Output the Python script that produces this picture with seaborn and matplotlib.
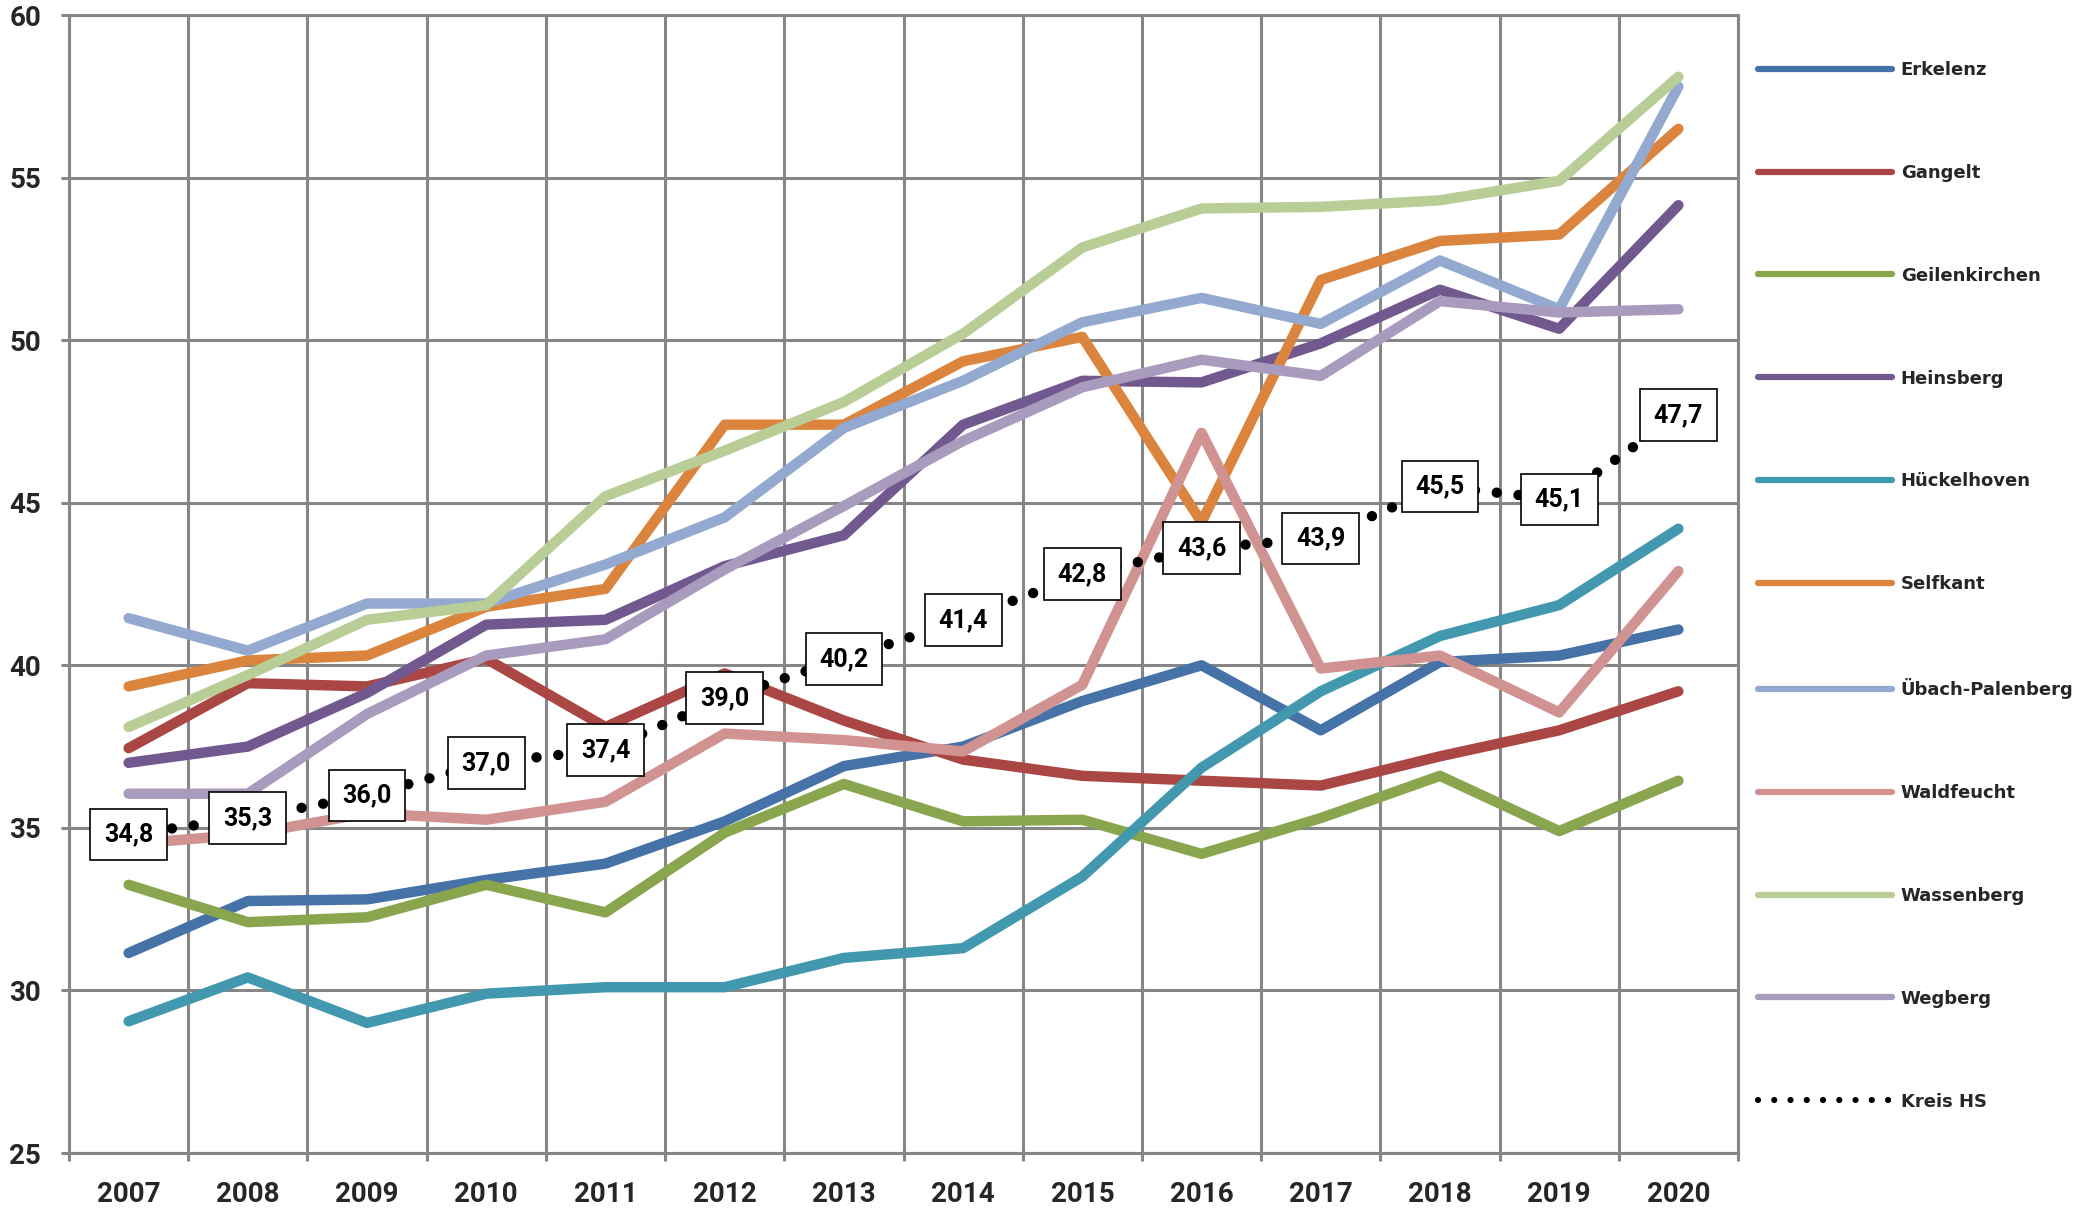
import pandas as pd
import matplotlib.pyplot as plt
import seaborn as sns
from matplotlib.lines import Line2D

# Data
years = ['2007', '2008', '2009', '2010', '2011', '2012', '2013',
         '2014', '2015', '2016', '2017', '2018', '2019', '2020']

erkelenz = [31.15, 32.75, 32.8, 33.4, 33.9, 35.2, 36.9, 37.5, 38.9, 40.0, 38.0, 40.1, 40.3, 41.1]
gangelt = [37.45, 39.45, 39.35, 40.2, 38.1, 39.75, 38.3, 37.1, 36.6, 36.45, 36.3, 37.2, 38.0, 39.2]
geilenkirchen = [33.25, 32.1, 32.25, 33.25, 32.4, 34.85, 36.35, 35.2, 35.25, 34.2, 35.3, 36.6, 34.9, 36.45]
heinsberg = [37.0, 37.5, 39.15, 41.25, 41.4, 43.05, 44.0, 47.4, 48.75, 48.7, 49.9, 51.55, 50.35, 54.15]
hueckelhoven = [29.05, 30.4, 29.0, 29.9, 30.1, 30.1, 31.0, 31.3, 33.5, 36.85, 39.2, 40.9, 41.85, 44.2]
selfkant = [39.35, 40.15, 40.3, 41.8, 42.35, 47.4, 47.4, 49.35, 50.1, 44.4, 51.85, 53.05, 53.25, 56.5]
uebach = [41.45, 40.45, 41.9, 41.9, 43.1, 44.55, 47.3, 48.75, 50.55, 51.3, 50.5, 52.45, 50.95, 57.8]
waldfeucht = [34.5, 34.8, 35.45, 35.25, 35.8, 37.9, 37.7, 37.35, 39.4, 47.15, 39.9, 40.3, 38.55, 42.9]
wassenberg = [38.1, 39.7, 41.4, 41.85, 45.2, 46.6, 48.1, 50.2, 52.85, 54.05, 54.1, 54.3, 54.9, 58.1]
wegberg = [36.05, 36.05, 38.5, 40.3, 40.8, 42.95, 44.9, 46.9, 48.55, 49.4, 48.9, 51.2, 50.85, 50.95]
kreis_hs = [34.8, 35.3, 36.0, 37.0, 37.4, 39.0, 40.2, 41.4, 42.8, 43.6, 43.9, 45.5, 45.1, 47.7]

towns = ['Erkelenz', 'Gangelt', 'Geilenkirchen', 'Heinsberg', 'Hückelhoven',
         'Selfkant', 'Übach-Palenberg', 'Waldfeucht', 'Wassenberg', 'Wegberg']
series = [erkelenz, gangelt, geilenkirchen, heinsberg, hueckelhoven,
          selfkant, uebach, waldfeucht, wassenberg, wegberg]
colors = ['#4572A7', '#AA4643', '#89A54E', '#71588F', '#4198AF',
          '#DB843D', '#93A9CF', '#D19392', '#B9CD96', '#A99BBD']

rows = []
for town, vals in zip(towns, series):
    for i, v in enumerate(vals):
        rows.append({'Ort': town, 'pos': i, 'Wert': v})
df = pd.DataFrame(rows)

sns.set_style('white')
plt.rcParams['font.family'] = ['Roboto', 'DejaVu Sans']

fig = plt.figure(figsize=(20.88, 12.10), dpi=100)
ax = fig.add_axes([69 / 2088, 1 - 1153 / 1210, (1738 - 69) / 2088, (1153 - 15) / 1210])

grid_c = '#868686'

sns.lineplot(data=df, x='pos', y='Wert', hue='Ort', palette=dict(zip(towns, colors)),
             linewidth=7.5, legend=False, ax=ax, solid_joinstyle='round', solid_capstyle='round')

sns.lineplot(x=list(range(len(years))), y=kreis_hs, color='black', linewidth=7.5,
             linestyle=(0, (0.001, 2.1)), dash_capstyle='round', ax=ax, legend=False)

# labels for Kreis HS
for i, v in enumerate(kreis_hs):
    ax.text(i, v, f'{v:.1f}'.replace('.', ','), ha='center', va='center',
            fontsize=18, fontweight='bold', color='black', zorder=10,
            bbox=dict(boxstyle='square,pad=0.55', facecolor='white', edgecolor='black', linewidth=1.2))

ax.set_xlim(-0.5, len(years) - 0.5)
ax.set_ylim(25, 60)
ax.set_xticks(range(len(years)))
ax.set_xticklabels(years)
ax.set_xticks([i - 0.5 for i in range(len(years) + 1)], minor=True)
ax.set_yticks(range(25, 61, 5))
ax.set_xlabel('')
ax.set_ylabel('')

ax.grid(False)
ax.grid(True, which='minor', axis='x', color=grid_c, linewidth=2.2)
ax.grid(True, which='major', axis='y', color=grid_c, linewidth=2.2)
ax.set_axisbelow(True)

ax.tick_params(axis='x', which='major', length=0, pad=20, labelsize=20)
ax.tick_params(axis='x', which='minor', length=6, width=2.2, color=grid_c, direction='out', bottom=True)
ax.tick_params(axis='y', which='major', length=6, width=2.2, color=grid_c, direction='out', left=True,
               pad=14, labelsize=20)
for lab in ax.get_xticklabels() + ax.get_yticklabels():
    lab.set_fontweight('bold')

for sp in ax.spines.values():
    sp.set_color(grid_c)
    sp.set_linewidth(2.2)

# legend
handles = [Line2D([0], [0], color=c, linewidth=4.5, solid_capstyle='round') for c in colors]
handles.append(Line2D([0], [0], color='black', linewidth=4.5, linestyle=(0, (0.001, 2.6)),
                      dash_capstyle='round'))
labels = towns + ['Kreis HS']
leg = ax.legend(handles, labels, loc='upper left', bbox_to_anchor=(1758 / 2088, 1 - 61 / 1210),
                bbox_transform=fig.transFigure, frameon=False, borderpad=0, borderaxespad=0,
                handlelength=7.4, handletextpad=0.5, labelspacing=4.7,
                prop={'family': 'DejaVu Sans', 'weight': 'bold', 'size': 13})

plt.savefig('out.png', dpi=100)
